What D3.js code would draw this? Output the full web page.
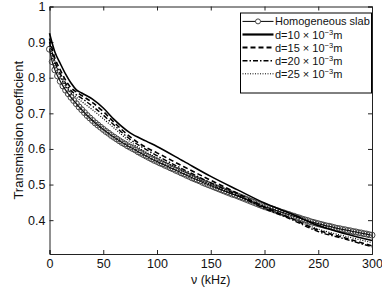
<!DOCTYPE html>
<html>
<head>
<meta charset="utf-8">
<script src="https://cdn.jsdelivr.net/npm/d3@7"></script>
<style>
  body { margin: 0; background: #fff; }
  text { font-family: "Liberation Sans", Arial, sans-serif; }
</style>
</head>
<body>
<div id="chart"></div>
<script>
// Homogeneous slab, sampled every 2.5 kHz
const homFreq = d3.range(0, 301, 2.5);
const homValues = [0.880, 0.845, 0.822, 0.805, 0.790, 0.777, 0.765, 0.755, 0.745, 0.736,
    0.727, 0.718, 0.710, 0.702, 0.694, 0.687, 0.680, 0.673, 0.667, 0.661,
    0.655, 0.649, 0.644, 0.638, 0.633, 0.628, 0.623, 0.618, 0.614, 0.609,
    0.605, 0.601, 0.597, 0.592, 0.588, 0.584, 0.580, 0.576, 0.572, 0.568,
    0.565, 0.561, 0.558, 0.554, 0.551, 0.547, 0.544, 0.540, 0.537, 0.533,
    0.530, 0.526, 0.523, 0.519, 0.516, 0.513, 0.510, 0.506, 0.503, 0.500,
    0.497, 0.494, 0.491, 0.488, 0.485, 0.482, 0.479, 0.476, 0.473, 0.471,
    0.468, 0.465, 0.462, 0.459, 0.456, 0.453, 0.450, 0.447, 0.444, 0.441,
    0.438, 0.436, 0.433, 0.431, 0.428, 0.426, 0.423, 0.421, 0.418, 0.416,
    0.413, 0.411, 0.408, 0.406, 0.403, 0.401, 0.399, 0.396, 0.394, 0.392,
    0.390, 0.388, 0.386, 0.384, 0.383, 0.381, 0.379, 0.377, 0.376, 0.374,
    0.373, 0.371, 0.370, 0.368, 0.367, 0.365, 0.364, 0.362, 0.361, 0.359, 0.358];

// layered slabs
const freq = [0, 5, 10, 15, 20, 25, 30, 40, 50, 60, 75, 90, 100, 125, 150, 175, 200, 225, 250, 275, 300];
const d10 = [0.925, 0.872, 0.840, 0.810, 0.785, 0.766, 0.757, 0.740, 0.715, 0.683, 0.645, 0.622, 0.607, 0.565, 0.523, 0.485, 0.448, 0.418, 0.385, 0.362, 0.343];
const d15 = [0.910, 0.855, 0.822, 0.793, 0.772, 0.760, 0.750, 0.730, 0.705, 0.675, 0.634, 0.604, 0.589, 0.550, 0.512, 0.475, 0.437, 0.405, 0.372, 0.350, 0.328];
const d20 = [0.900, 0.845, 0.812, 0.785, 0.764, 0.752, 0.742, 0.720, 0.695, 0.667, 0.627, 0.598, 0.581, 0.542, 0.505, 0.470, 0.433, 0.402, 0.368, 0.347, 0.325];
const d25 = [0.890, 0.835, 0.802, 0.776, 0.757, 0.745, 0.733, 0.710, 0.685, 0.659, 0.620, 0.591, 0.575, 0.537, 0.500, 0.468, 0.435, 0.405, 0.375, 0.355, 0.337];

const xTicks = [0, 50, 100, 150, 200, 250, 300];
const yTicks = [0.4, 0.5, 0.6, 0.7, 0.8, 0.9, 1];

const W = 382, H = 287;
const margin = { top: 6.5, right: 10, bottom: 33, left: 49.5 },
    width = W - margin.left - margin.right,
    height = H - margin.top - margin.bottom;

const svg = d3.select("#chart").append("svg")
    .attr("width", W)
    .attr("height", H)
    .append("g")
    .attr("transform", `translate(${margin.left},${margin.top})`);

const x = d3.scaleLinear().domain([0, 300]).range([0, width]);
const y = d3.scaleLinear().domain([0.305, 1]).range([height, 0]);

// axes with inward ticks (box style)
const axisColor = "#222";
const tick = 4;
svg.append("g")
    .attr("transform", `translate(0,${height})`)
    .call(d3.axisBottom(x).tickValues(xTicks).tickSize(-tick).tickPadding(5).tickFormat(d3.format("d")));
svg.append("g")
    .call(d3.axisTop(x).tickValues(xTicks).tickSize(-tick).tickFormat(""));
svg.append("g")
    .call(d3.axisLeft(y).tickValues(yTicks).tickSize(-tick).tickPadding(4).tickFormat(d => d === 1 ? "1" : d3.format(".1f")(d)));
svg.append("g")
    .attr("transform", `translate(${width},0)`)
    .call(d3.axisRight(y).tickValues(yTicks).tickSize(-tick).tickFormat(""));

svg.selectAll(".domain").attr("stroke", axisColor).attr("stroke-width", 1);
svg.selectAll(".tick line").attr("stroke", axisColor);
svg.selectAll(".tick text")
    .attr("fill", "#111")
    .style("font-size", "12.5px")
    .style("font-family", "'Liberation Sans', Arial, sans-serif");

// axis labels
svg.append("text")
    .attr("transform", "rotate(-90)")
    .attr("x", -height / 2)
    .attr("y", -margin.left + 23)
    .attr("text-anchor", "middle")
    .style("font-size", "13px")
    .attr("fill", "#111")
    .text("Transmission coefficient");

svg.append("text")
    .attr("x", width / 2)
    .attr("y", height + 29.5)
    .attr("text-anchor", "middle")
    .style("font-size", "12.5px")
    .attr("fill", "#111")
    .text("ν (kHz)");

const line = d3.line()
    .x(d => x(d[0]))
    .y(d => y(d[1]))
    .curve(d3.curveMonotoneX);

const series = [
    { name: "d10", values: d10, dash: null, w: 1.6 },
    { name: "d15", values: d15, dash: "5,3", w: 1.6 },
    { name: "d20", values: d20, dash: "5,2,1.5,2", w: 1.4 },
    { name: "d25", values: d25, dash: "1,1.5", w: 1.2 }
];

// homogeneous slab: circles + line
const hom = homFreq.map((f, i) => [f, homValues[i]]);
svg.selectAll(".hom")
    .data(hom)
    .enter().append("circle")
    .attr("cx", d => x(d[0]))
    .attr("cy", d => y(d[1]))
    .attr("r", 3)
    .attr("fill", "none")
    .attr("stroke", "#444")
    .attr("stroke-width", 1);
svg.append("path")
    .datum(hom)
    .attr("fill", "none")
    .attr("stroke", "#111")
    .attr("stroke-width", 1.2)
    .attr("d", line);

series.forEach(s => {
    svg.append("path")
        .datum(freq.map((f, i) => [f, s.values[i]]))
        .attr("fill", "none")
        .attr("stroke", "#000")
        .attr("stroke-width", s.w)
        .attr("stroke-dasharray", s.dash)
        .attr("d", line);
});

// legend
const lx = 240.5 - margin.left, ly = 13 - margin.top, lw = 131, lh = 80;
const legend = svg.append("g").attr("transform", `translate(${lx},${ly})`);
legend.append("rect")
    .attr("width", lw)
    .attr("height", lh)
    .attr("fill", "#fff")
    .attr("stroke", "#000")
    .attr("stroke-width", 1);

const items = [
    { label: "Homogeneous slab", dash: null, w: 1, marker: true },
    { label: "d=10", dash: null, w: 2.2 },
    { label: "d=15", dash: "5,3", w: 2 },
    { label: "d=20", dash: "5,2,1.5,2", w: 1.5 },
    { label: "d=25", dash: "1,1.5", w: 1 }
];

items.forEach((it, i) => {
    const cy = 8.4 + i * 13.1;
    legend.append("line")
        .attr("x1", 2).attr("x2", 33)
        .attr("y1", cy).attr("y2", cy)
        .attr("stroke", "#000")
        .attr("stroke-width", it.w)
        .attr("stroke-dasharray", it.dash);
    if (it.marker) {
        legend.append("circle")
            .attr("cx", 17.5).attr("cy", cy).attr("r", 2.5)
            .attr("fill", "#fff").attr("stroke", "#444");
    }
    const t = legend.append("text")
        .attr("x", 34.5)
        .attr("y", cy + 4)
        .style("font-size", "11px")
        .attr("fill", "#111");
    if (it.marker) {
        t.text(it.label);
    } else {
        t.text(it.label + " × 10");
        t.append("tspan").attr("dy", -4).style("font-size", "7.5px").text("−3");
        t.append("tspan").attr("dy", 4).text("m");
    }
});
</script>
</body>
</html>
